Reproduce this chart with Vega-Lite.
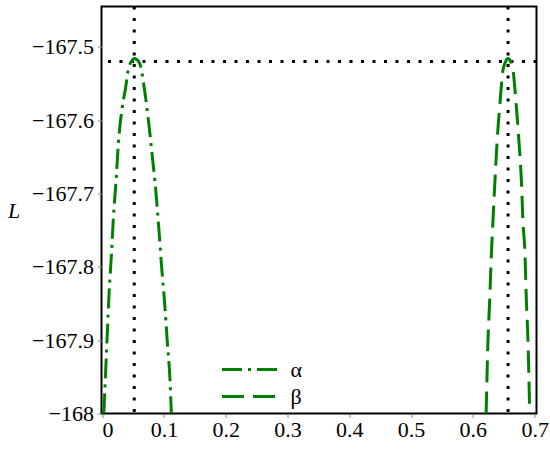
{
  "$schema": "https://vega.github.io/schema/vega-lite/v6.json",
  "width": 435,
  "height": 407,
  "autosize": {"type": "none"},
  "padding": {"left": 101.5, "top": 6.5, "right": 13.5, "bottom": 38.5},
  "background": "white",
  "config": {
    "view": {"stroke": "black", "strokeWidth": 2},
    "font": "Liberation Serif",
    "axis": {
      "domain": false,
      "grid": false,
      "labelFont": "Liberation Serif",
      "labelFontSize": 22,
      "labelColor": "black",
      "labelOverlap": false,
      "tickColor": "#888888",
      "tickSize": 4,
      "tickWidth": 1
    },
    "legend": {"labelFont": "Liberation Serif"}
  },
  "datasets": {
    "curves": [
      {"series": "α", "x": 0.0028, "y": -168.0},
      {"series": "α", "x": 0.006, "y": -167.937},
      {"series": "α", "x": 0.0086, "y": -167.887},
      {"series": "α", "x": 0.0113, "y": -167.836},
      {"series": "α", "x": 0.015, "y": -167.784},
      {"series": "α", "x": 0.0183, "y": -167.732},
      {"series": "α", "x": 0.0226, "y": -167.682},
      {"series": "α", "x": 0.0264, "y": -167.631},
      {"series": "α", "x": 0.0328, "y": -167.581},
      {"series": "α", "x": 0.038, "y": -167.556},
      {"series": "α", "x": 0.0425, "y": -167.53},
      {"series": "α", "x": 0.0465, "y": -167.521},
      {"series": "α", "x": 0.05, "y": -167.517},
      {"series": "α", "x": 0.0525, "y": -167.516},
      {"series": "α", "x": 0.0555, "y": -167.517},
      {"series": "α", "x": 0.059, "y": -167.52},
      {"series": "α", "x": 0.0614, "y": -167.524},
      {"series": "α", "x": 0.064, "y": -167.533},
      {"series": "α", "x": 0.0668, "y": -167.548},
      {"series": "α", "x": 0.0748, "y": -167.599},
      {"series": "α", "x": 0.0813, "y": -167.65},
      {"series": "α", "x": 0.0873, "y": -167.7},
      {"series": "α", "x": 0.0921, "y": -167.751},
      {"series": "α", "x": 0.0965, "y": -167.802},
      {"series": "α", "x": 0.1014, "y": -167.852},
      {"series": "α", "x": 0.1056, "y": -167.904},
      {"series": "α", "x": 0.1099, "y": -167.955},
      {"series": "α", "x": 0.112, "y": -168.0},
      {"series": "β", "x": 0.6215, "y": -168.0},
      {"series": "β", "x": 0.6245, "y": -167.9},
      {"series": "β", "x": 0.6272, "y": -167.846},
      {"series": "β", "x": 0.63, "y": -167.782},
      {"series": "β", "x": 0.6326, "y": -167.736},
      {"series": "β", "x": 0.6358, "y": -167.682},
      {"series": "β", "x": 0.6397, "y": -167.623},
      {"series": "β", "x": 0.6434, "y": -167.582},
      {"series": "β", "x": 0.6487, "y": -167.532},
      {"series": "β", "x": 0.652, "y": -167.522},
      {"series": "β", "x": 0.655, "y": -167.517},
      {"series": "β", "x": 0.657, "y": -167.516},
      {"series": "β", "x": 0.659, "y": -167.517},
      {"series": "β", "x": 0.662, "y": -167.522},
      {"series": "β", "x": 0.665, "y": -167.532},
      {"series": "β", "x": 0.6704, "y": -167.582},
      {"series": "β", "x": 0.6741, "y": -167.623},
      {"series": "β", "x": 0.6785, "y": -167.682},
      {"series": "β", "x": 0.681, "y": -167.736},
      {"series": "β", "x": 0.6843, "y": -167.782},
      {"series": "β", "x": 0.6866, "y": -167.846},
      {"series": "β", "x": 0.6892, "y": -167.9},
      {"series": "β", "x": 0.692, "y": -168.0}
    ],
    "vlines": [{"vx": 0.052}, {"vx": 0.657}],
    "hlines": [{"hy": -167.52}]
  },
  "layer": [
    {
      "data": {"name": "vlines"},
      "mark": {"type": "rule", "color": "black", "strokeWidth": 3, "strokeDash": [3, 8.5], "strokeCap": "butt"},
      "encoding": {
        "x": {"field": "vx", "type": "quantitative", "scale": {"domain": [-0.001, 0.703], "nice": false, "zero": false}}
      }
    },
    {
      "data": {"name": "hlines"},
      "mark": {"type": "rule", "color": "black", "strokeWidth": 3, "strokeDash": [3, 8.5], "strokeCap": "butt"},
      "encoding": {
        "y": {"field": "hy", "type": "quantitative", "scale": {"domain": [-168, -167.445], "nice": false, "zero": false}}
      }
    },
    {
      "data": {"name": "curves"},
      "mark": {"type": "line", "color": "#008000", "strokeWidth": 3, "interpolate": "monotone", "clip": true},
      "encoding": {
        "x": {
          "field": "x", "type": "quantitative",
          "scale": {"domain": [-0.001, 0.703], "nice": false, "zero": false},
          "axis": {
            "title": null,
            "values": [0, 0.05, 0.1, 0.15, 0.2, 0.25, 0.3, 0.35, 0.4, 0.45, 0.5, 0.55, 0.6, 0.65, 0.7],
            "format": ".1~f",
            "labelFont": "Liberation Serif",
            "labelFontSize": 22,
            "labelExpr": "abs(datum.value*10 - round(datum.value*10)) > 0.01 ? '' : datum.label",
            "labelPadding": 2
          }
        },
        "y": {
          "field": "y", "type": "quantitative",
          "scale": {"domain": [-168, -167.445], "nice": false, "zero": false},
          "axis": {
            "title": "L",
            "titleAngle": 0,
            "titleFontStyle": "italic",
            "titleFontWeight": "normal",
            "titleFont": "Liberation Serif",
            "titleFontSize": 22,
            "titleX": -88,
            "titleY": 204,
            "titleAlign": "center",
            "titleBaseline": "middle",
            "values": [-168, -167.95, -167.9, -167.85, -167.8, -167.75, -167.7, -167.65, -167.6, -167.55, -167.5, -167.45],
            "format": ".1~f",
            "labelFont": "Liberation Serif",
            "labelFontSize": 22,
            "labelExpr": "abs(datum.value*10 - round(datum.value*10)) > 0.01 ? '' : datum.label",
            "labelPadding": 4
          }
        },
        "strokeDash": {
          "field": "series", "type": "nominal",
          "scale": {"domain": ["α", "β"], "range": [[20, 6, 3, 6], [22, 9]]},
          "legend": {
            "title": null,
            "orient": "none",
            "legendX": 137,
            "legendY": 352,
            "symbolType": "M-3,0H3",
            "symbolSize": 336,
            "symbolStrokeWidth": 3,
            "symbolStrokeColor": "#008000",
            "symbolFillColor": "transparent",
            "labelFont": "Liberation Serif",
            "labelFontSize": 22,
            "labelOffset": 30,
            "rowPadding": 5
          }
        }
      }
    }
  ]
}
